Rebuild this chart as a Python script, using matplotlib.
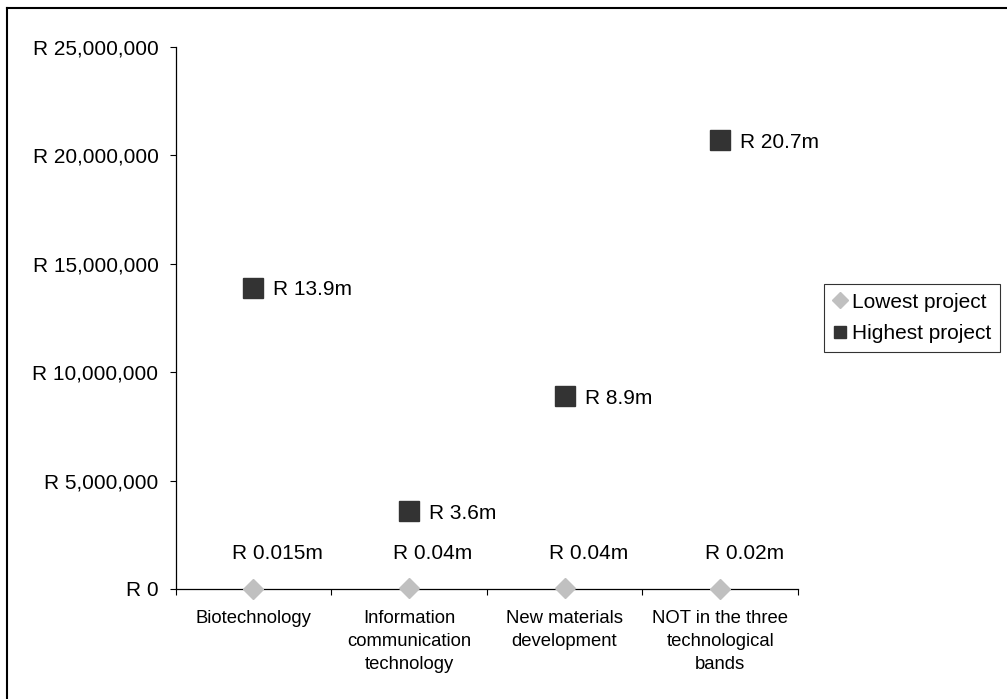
import matplotlib
matplotlib.use("Agg")
import matplotlib.pyplot as plt
from matplotlib.lines import Line2D
from matplotlib.ticker import FuncFormatter, FixedLocator, NullFormatter

plt.rcParams['font.family'] = ['Liberation Sans', 'DejaVu Sans']

categories = [
    "Biotechnology",
    "Information\ncommunication\ntechnology",
    "New materials\ndevelopment",
    "NOT in the three\ntechnological\nbands",
]
lowest_project = [15_000, 40_000, 40_000, 20_000]
highest_project = [13_900_000, 3_600_000, 8_900_000, 20_700_000]
lowest_labels = ["R 0.015m", "R 0.04m", "R 0.04m", "R 0.02m"]
highest_labels = ["R 13.9m", "R 3.6m", "R 8.9m", "R 20.7m"]
y_ticks = [0, 5_000_000, 10_000_000, 15_000_000, 20_000_000, 25_000_000]

W, H = 1007, 699
fig = plt.figure(figsize=(W / 100, H / 100), dpi=100)
ax = fig.add_axes([175.5 / W, (H - 589) / H, (798 - 175.5) / W, (589 - 47) / H])

xs = [i + 0.5 for i in range(len(categories))]
low_color = "#c0c0c0"
high_color = "#333333"

ax.plot(xs, lowest_project, linestyle="none", marker="D", markersize=10.2,
        color=low_color, markeredgecolor=low_color, clip_on=False, zorder=3)
ax.plot(xs, highest_project, linestyle="none", marker="s", markersize=14.5,
        color=high_color, markeredgecolor=high_color, clip_on=False, zorder=3)

for x, v, t in zip(xs, lowest_project, lowest_labels):
    ax.annotate(t, (x, v), xytext=(17.3, 25), textcoords="offset points",
                ha="center", va="center", fontsize=15)
for x, v, t in zip(xs, highest_project, highest_labels):
    ax.annotate(t, (x, v), xytext=(14.4, -1.5), textcoords="offset points",
                ha="left", va="center", fontsize=15)

ax.set_xlim(0, len(categories))
ax.set_ylim(0, 25_000_000)
ax.set_yticks(y_ticks)
ax.yaxis.set_major_formatter(FuncFormatter(lambda v, p: "R 0" if v == 0 else f"R {int(v):,}"))
ax.tick_params(axis="y", length=4.3, width=0.8, pad=8, labelsize=15, direction="out")

# category boundaries as major ticks, category names as unticked minor labels
ax.xaxis.set_major_locator(FixedLocator(list(range(len(categories) + 1))))
ax.xaxis.set_major_formatter(NullFormatter())
ax.xaxis.set_minor_locator(FixedLocator(xs))
ax.set_xticklabels(categories, minor=True)
ax.tick_params(axis="x", which="major", length=4.3, width=0.8, direction="out")
ax.tick_params(axis="x", which="minor", length=0, pad=15, labelsize=13.3)
for lab in ax.get_xticklabels(minor=True):
    lab.set_linespacing(1.45)

for s in ("top", "right"):
    ax.spines[s].set_visible(False)
for s in ("left", "bottom"):
    ax.spines[s].set_linewidth(0.9)
    ax.spines[s].set_color("black")

handles = [
    Line2D([], [], linestyle="none", marker="D", markersize=8.5, color=low_color),
    Line2D([], [], linestyle="none", marker="s", markersize=9, color=high_color),
]
leg = fig.legend(handles, ["Lowest project", "Highest project"],
                 loc="center right", bbox_to_anchor=(1000 / W, 1 - 318 / H),
                 fontsize=15, frameon=True, fancybox=False, shadow=False,
                 handlelength=0.75, handletextpad=0.2, borderpad=0.4,
                 labelspacing=0.62, borderaxespad=0)
leg.get_frame().set_edgecolor("black")
leg.get_frame().set_linewidth(0.8)

# frame lines along the top and left edges of the figure
fig.add_artist(Line2D([6.5 / W, 6.5 / W], [0, 1 - 8 / H], transform=fig.transFigure,
                      color="black", linewidth=1.5))
fig.add_artist(Line2D([6.5 / W, 1], [1 - 8 / H, 1 - 8 / H], transform=fig.transFigure,
                      color="black", linewidth=1.5))

fig.savefig("out.png", dpi=100)
